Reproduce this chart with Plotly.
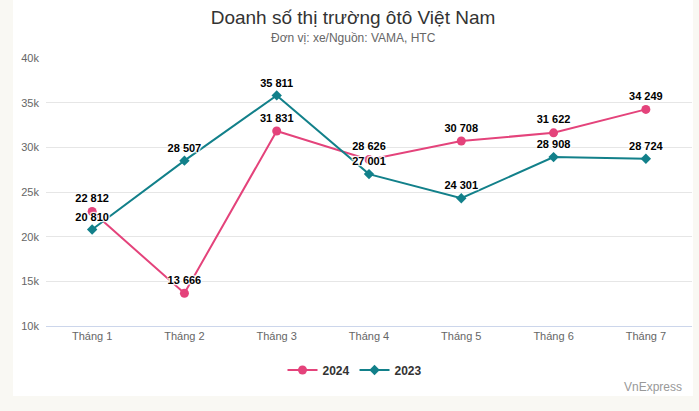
import plotly.graph_objects as go

categories = ["Tháng 1", "Tháng 2", "Tháng 3", "Tháng 4", "Tháng 5", "Tháng 6", "Tháng 7"]
sales_2024 = [22812, 13666, 31831, 28626, 30708, 31622, 34249]
sales_2023 = [20810, 28507, 35811, 27001, 24301, 28908, 28724]
y_ticks = [10000, 15000, 20000, 25000, 30000, 35000, 40000]
y_tick_labels = ["10k", "15k", "20k", "25k", "30k", "35k", "40k"]

PINK = "#e4437b"
TEAL = "#12808a"
FONT = "Liberation Sans, Arial, sans-serif"
halo = "1px 1px 1px #fff, -1px -1px 1px #fff, 1px -1px 1px #fff, -1px 1px 1px #fff, 0 0 2px #fff"


def fmt(v):
    return f"{v:,}".replace(",", " ")


fig = go.Figure()
fig.add_trace(go.Scatter(
    x=categories, y=sales_2024, name="2024", mode="lines+markers+text",
    line=dict(color=PINK, width=2),
    marker=dict(symbol="circle", size=9, color=PINK),
    text=[fmt(v) for v in sales_2024], textposition="top center",
    textfont=dict(family=FONT, size=11, color="#000", weight="bold", shadow=halo),
    cliponaxis=False,
))
fig.add_trace(go.Scatter(
    x=categories, y=sales_2023, name="2023", mode="lines+markers+text",
    line=dict(color=TEAL, width=2),
    marker=dict(symbol="diamond", size=8, color=TEAL),
    text=[fmt(v) for v in sales_2023], textposition="top center",
    textfont=dict(family=FONT, size=11, color="#000", weight="bold", shadow=halo),
    cliponaxis=False,
))

# white card
fig.add_shape(type="rect", xref="paper", yref="paper",
              x0=-0.0511, x1=1.0015, y0=-0.2612, y1=1.22,
              fillcolor="#ffffff", line=dict(width=0), layer="below")

fig.update_layout(
    width=699, height=411,
    margin=dict(l=46, r=7, t=58, b=85),
    paper_bgcolor="#f9f8f3",
    plot_bgcolor="rgba(0,0,0,0)",
    font=dict(family=FONT, color="#666"),
    title=dict(text="Doanh số thị trường ôtô Việt Nam", x=353 / 699, xref="container",
               y=1 - 17 / 411, yref="container", xanchor="center", yanchor="middle",
               font=dict(size=19, color="#333", family=FONT)),
    showlegend=True,
    legend=dict(orientation="h", x=(355 - 46) / 646, xanchor="center", y=(326 - 370) / 268,
                yanchor="middle",
                font=dict(size=12, color="#333", family=FONT, weight="bold"),
                bgcolor="rgba(0,0,0,0)", itemwidth=30, tracegroupgap=0),
    annotations=[
        dict(text="Đơn vị: xe/Nguồn: VAMA, HTC", x=(353 - 46) / 646, xref="paper",
             y=(326 - 38) / 268, yref="paper", showarrow=False, xanchor="center",
             yanchor="middle", font=dict(size=12, color="#666", family=FONT)),
        dict(text="VnExpress", x=(684 - 46) / 646, xref="paper", y=(326 - 387) / 268,
             yref="paper", showarrow=False, xanchor="right", yanchor="middle",
             font=dict(size=12, color="#999", family=FONT)),
    ],
    xaxis=dict(range=[-0.5, 6.5], showgrid=False, showline=True, linecolor="#ccd6eb",
               linewidth=1, ticks="", tickfont=dict(size=11, color="#666"), fixedrange=True),
    yaxis=dict(range=[10000, 40000], tickvals=y_ticks, ticktext=y_tick_labels,
               showgrid=True, gridcolor="#e6e6e6", gridwidth=1, zeroline=False,
               tickfont=dict(size=11, color="#666"), ticks="", ticklabelstandoff=6),
)

fig.write_html("out.html")
